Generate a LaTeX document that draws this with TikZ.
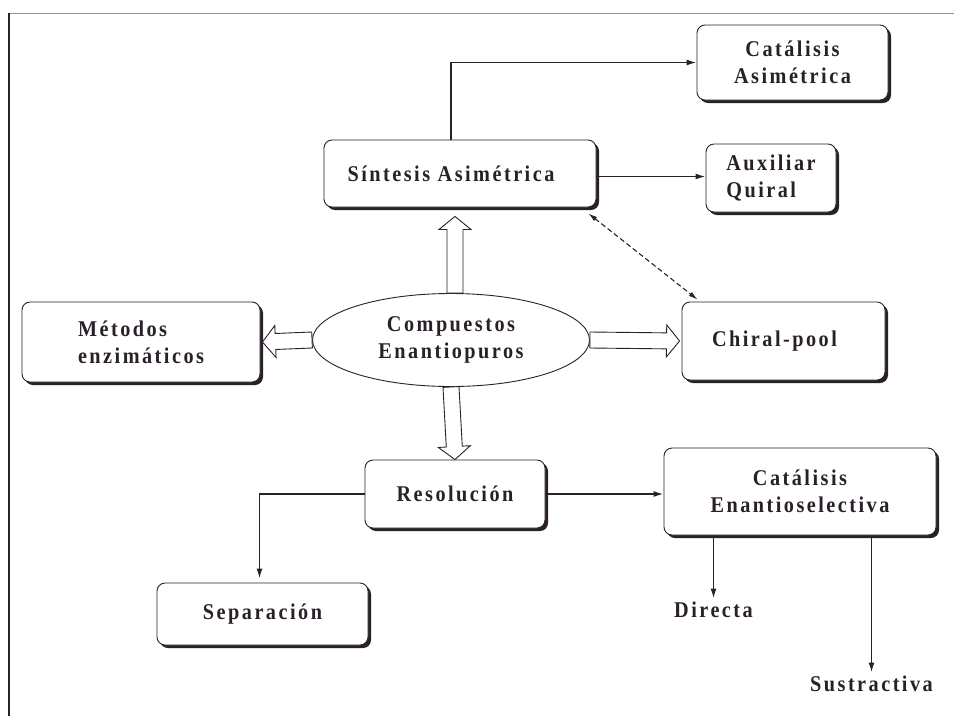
\documentclass[tikz,border=0pt]{standalone}
\usepackage{fontspec}
\setmainfont{Liberation Serif}[LetterSpace=11,FakeStretch=0.9]
\usetikzlibrary{shapes.geometric,shadows,arrows.meta,calc}
\definecolor{ink}{RGB}{42,32,42}
\definecolor{rule}{RGB}{150,145,150}
\newcommand\lbl{\bfseries\fontsize{22.5}{27}\selectfont}
% hollow block arrow between two points
\newcommand\fatarrow[2]{%
  \draw[fat] let \p1=(#1), \p2=(#2),
      \n1={atan2(\y2-\y1,\x2-\x1)}, \n2={veclen(\x2-\x1,\y2-\y1)} in
    [shift={(\p1)}, rotate=\n1]
    (0,-8) -- (\n2-13,-8) -- (\n2-13,-16) -- (\n2,0) --
    (\n2-13,16) -- (\n2-13,8) -- (0,8) -- cycle;}
\begin{document}
\begin{tikzpicture}[x=1pt,y=-1pt,
  box/.style={draw=ink, line width=0.9pt, rounded corners=8pt, fill=white,
    drop shadow={shadow xshift=3pt, shadow yshift=-3pt, fill=ink, opacity=1},
    align=center, font=\lbl, text=ink, inner sep=0pt},
  plain/.style={font=\lbl, text=ink},
  conn/.style={draw=ink, line width=1.6pt, -{Latex[length=10pt,width=6pt]}},
  fat/.style={draw=ink, line width=0.9pt, fill=white, line join=miter},
  link/.style={draw=ink, line width=1.1pt, dash pattern=on 5pt off 3pt,
    {Latex[length=9pt,width=5pt]}-{Latex[length=9pt,width=5pt]}}]
\useasboundingbox (0,0) rectangle (954,716);

% frame
\draw[rule, line width=0.8pt] (9,13) -- (954,13);
\draw[ink, line width=2pt] (9,13) -- (9,716);

% boxes
\node[box, minimum width=191pt, minimum height=75pt] (catA) at (792.5,62.5) {Catálisis\\Asimétrica};
\node[box, minimum width=272pt, minimum height=67pt] (sint) at (460,173.5) {\hspace*{-18pt}Síntesis Asimétrica};
\node[box, minimum width=130pt, minimum height=68pt, align=left] (aux) at (771,178) {Auxiliar\\Quiral};
\node[box, minimum width=238pt, minimum height=80pt, align=left] (met) at (141,342) {Métodos\\enzimáticos};
\node[draw=ink, line width=0.9pt, fill=white, ellipse, minimum width=277pt, minimum height=93pt,
  inner sep=0pt, align=center, font=\lbl, text=ink] (ell) at (451,340) {Compuestos\\Enantiopuros};
\node[box, minimum width=203pt, minimum height=78pt] (chir) at (783.5,341) {\hspace*{-18pt}Chiral-pool};
\node[box, minimum width=180pt, minimum height=68pt] (res) at (455,494) {Resolución};
\node[box, minimum width=211pt, minimum height=62pt] (sep) at (262.5,614) {Separación};
\node[box, minimum width=272pt, minimum height=87pt] (catE) at (800,491.5) {Catálisis\\Enantioselectiva};
\node[plain] (dir) at (713.5,610) {Directa};
\node[plain] (sus) at (871.5,684) {Sustractiva};

% block arrows out of the ellipse
\fatarrow{[xshift=4pt]ell.north}{[xshift=-5pt,yshift=-9pt]sint.south}
\fatarrow{ell.south}{res.north}
\fatarrow{ell.west}{[xshift=2pt]met.east}
\fatarrow{ell.east}{[xshift=-2pt]chir.west}

% connectors
\draw[conn] ([xshift=-9pt]sint.north) |- (catA.west);
\draw[conn] ([yshift=-3pt]sint.east) -- ([yshift=-3pt]sint.east -| aux.west);
\draw[conn, shorten >=4pt] (res.west) -| ([xshift=-3pt]sep.north);
\draw[conn] (res.east) -- (res.east -| catE.west);
\draw[conn] (catE.south -| dir.north) -- (dir.north);
\draw[conn] (catE.south -| sus.north) -- (sus.north);
\draw[link] ([xshift=-8pt,yshift=-6pt]sint.south east) -- ([xshift=16pt,yshift=2pt]chir.north west);
\end{tikzpicture}
\end{document}
